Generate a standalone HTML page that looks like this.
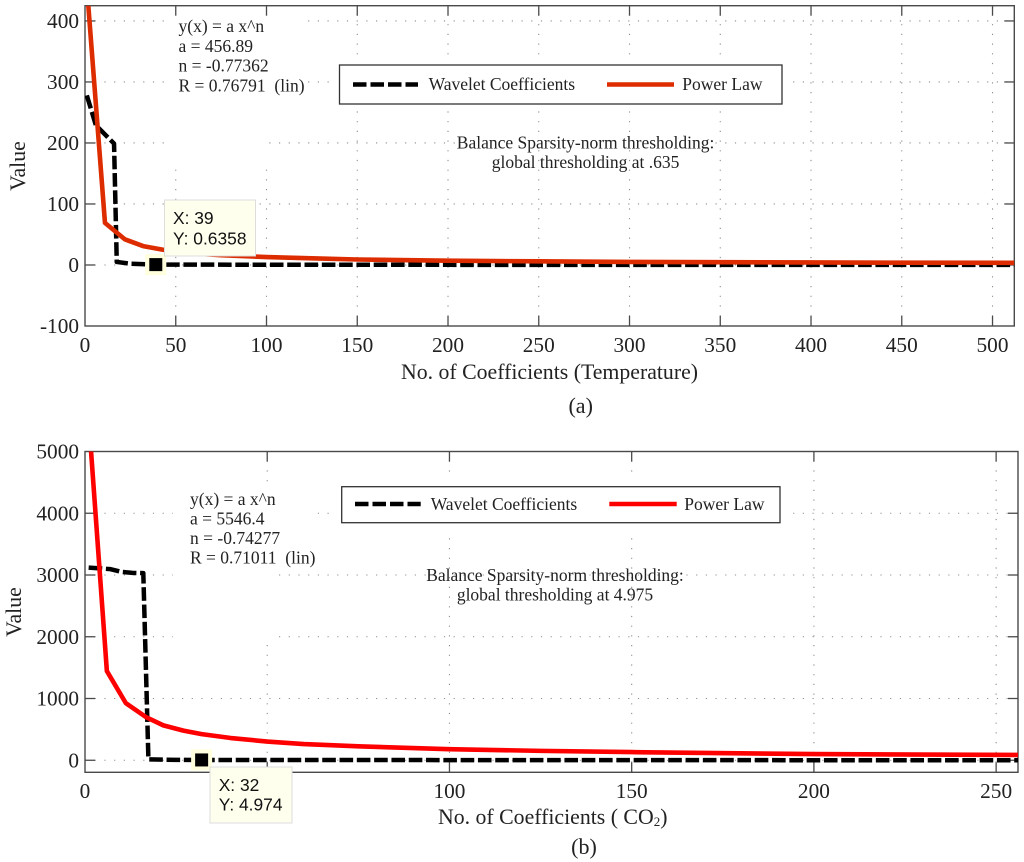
<!DOCTYPE html>
<html lang="en">
<head>
<meta charset="utf-8">
<title>Wavelet Coefficients and Power Law</title>
<style>
html,body{margin:0;padding:0;background:#fff;}
svg{display:block;}
text{font-family:"Liberation Serif",serif;fill:#222;}
.tick{font-size:21.3px;}
.axt{font-size:21.8px;}
.cap{font-size:22px;}
.ann{font-size:17.5px;}
.tip{font-family:"Liberation Sans",sans-serif;font-size:17.4px;fill:#111;}
</style>
</head>
<body>
<svg id="fig" xmlns="http://www.w3.org/2000/svg" width="1024" height="862" viewBox="0 0 1024 862">
  <defs>
    <clipPath id="clip-a"><rect x="85" y="5.7" width="929.3" height="320.3"/></clipPath>
    <clipPath id="clip-b"><rect x="85" y="451.5" width="933" height="320.8"/></clipPath>
  </defs>

  <g id="panel-a">
    <g id="grid-a"></g>
    <g fill="#fff">
      <rect x="165" y="15" width="141" height="76"/>
      <rect x="165" y="91" width="103" height="78"/>
      <rect x="332" y="60" width="456" height="50"/>
      <rect x="456" y="137" width="259" height="12"/>
    </g>
    <g id="axes-a"></g>
    <g id="series-a" clip-path="url(#clip-a)"></g>
    <g id="ticks-a"></g>

    <text class="axt" x="25" y="166" text-anchor="middle" transform="rotate(-90 25 166)">Value</text>
    <text class="axt" x="549.5" y="379" text-anchor="middle">No. of Coefficients (Temperature)</text>
    <text class="cap" x="580.7" y="413" text-anchor="middle">(a)</text>

    <g>
      <text class="ann" x="178.5" y="32">y(x) = a x^n</text>
      <text class="ann" x="178.5" y="52">a = 456.89</text>
      <text class="ann" x="178.5" y="71.5">n = -0.77362</text>
      <text class="ann" x="178.5" y="91.5" xml:space="preserve">R = 0.76791  (lin)</text>
    </g>

    <g>
      <rect x="339.5" y="65" width="442.5" height="39" fill="#fff" stroke="#333" stroke-width="1.3"/>
      <line x1="353" y1="84.5" x2="418" y2="84.5" stroke="#000" stroke-width="4.5" stroke-dasharray="13.5 4"/>
      <text class="ann" x="428.6" y="90">Wavelet Coefficients</text>
      <line x1="607" y1="84.5" x2="674" y2="84.5" stroke="#dd2c00" stroke-width="4.5"/>
      <text class="ann" x="682.3" y="90">Power Law</text>
    </g>

    <text class="ann" x="585.6" y="148.5" text-anchor="middle">Balance Sparsity-norm thresholding:</text>
    <text class="ann" x="585.6" y="168" text-anchor="middle">global thresholding at .635</text>

    <g id="marker-a"></g>
    <g>
      <rect x="164.5" y="200" width="91" height="56" fill="#ffffee" stroke="#ddd" stroke-width="1"/>
      <text class="tip" x="173" y="224">X: 39</text>
      <text class="tip" x="173" y="244.3">Y: 0.6358</text>
    </g>
  </g>

  <g id="panel-b">
    <g id="grid-b"></g>
    <g fill="#fff">
      <rect x="173" y="483" width="105" height="162"/>
      <rect x="278" y="483" width="39" height="62"/>
      <rect x="334" y="480" width="454" height="50"/>
    </g>
    <g id="axes-b"></g>
    <g id="series-b" clip-path="url(#clip-b)"></g>
    <g id="ticks-b"></g>

    <text class="axt" x="21" y="612" text-anchor="middle" transform="rotate(-90 21 612)">Value</text>
    <text class="axt" x="438" y="824">No. of Coefficients ( CO<tspan font-size="13" dy="2">2</tspan><tspan dy="-2">)</tspan></text>
    <text class="cap" x="584" y="854" text-anchor="middle">(b)</text>

    <g>
      <text class="ann" x="190" y="505">y(x) = a x^n</text>
      <text class="ann" x="190" y="524.3">a = 5546.4</text>
      <text class="ann" x="190" y="544">n = -0.74277</text>
      <text class="ann" x="190" y="563.3" xml:space="preserve">R = 0.71011  (lin)</text>
    </g>

    <g>
      <rect x="341.7" y="486.7" width="438.3" height="36" fill="#fff" stroke="#333" stroke-width="1.3"/>
      <line x1="355" y1="504" x2="420.7" y2="504" stroke="#000" stroke-width="4.5" stroke-dasharray="13.5 4"/>
      <text class="ann" x="430.7" y="510">Wavelet Coefficients</text>
      <line x1="609.3" y1="504" x2="676.7" y2="504" stroke="#ff0000" stroke-width="4.5"/>
      <text class="ann" x="684.3" y="510">Power Law</text>
    </g>

    <text class="ann" x="555" y="581" text-anchor="middle">Balance Sparsity-norm thresholding:</text>
    <text class="ann" x="555" y="600.7" text-anchor="middle">global thresholding at 4.975</text>

    <g id="marker-b"></g>
    <g>
      <rect x="210" y="767" width="82" height="56" fill="#ffffee" stroke="#ddd" stroke-width="1"/>
      <text class="tip" x="218.7" y="791">X: 32</text>
      <text class="tip" x="218.7" y="810.7">Y: 4.974</text>
    </g>
  </g>
</svg>

<script>
// Panel (a): Temperature
const xTicksA = [0, 50, 100, 150, 200, 250, 300, 350, 400, 450, 500];
const yTicksA = [-100, 0, 100, 200, 300, 400];
const waveletXA = [1, 6, 16, 17.5, 25, 39, 100, 200, 300, 400, 512];
const waveletYA = [278, 229, 199, 5, 2, 0.6358, 0.4, 0.3, 0.2, 0.1, 0.1];
const powerXA = [1, 11, 22, 32, 43, 54, 64, 75, 100, 125, 150, 200, 250, 300, 350, 400, 450, 512];
const powerYA = [457, 69, 42, 31, 25, 21, 18, 16, 13, 11, 9, 7, 6, 5, 4.6, 4.2, 3.8, 3.5];
const markerXA = 39;
const markerYA = 0.6358;

// Panel (b): CO2
const xTicksB = [0, 50, 100, 150, 200, 250];
const yTicksB = [0, 1000, 2000, 3000, 4000, 5000];
const waveletXB = [1, 7, 10, 13, 16, 17.4, 25, 32, 100, 150, 200, 256];
const waveletYB = [3120, 3095, 3050, 3035, 3030, 15, 6, 4.974, 3, 2, 1, 1];
const powerXB = [1, 6, 11.2, 16.7, 21.5, 27, 32, 40, 50, 60, 75, 100, 125, 150, 200, 256];
const powerYB = [5546, 1445, 925, 700, 565, 480, 423, 360, 303, 262, 225, 180, 152, 132, 100, 86];
const markerXB = 32;
const markerYB = 4.974;

const NS = 'http://www.w3.org/2000/svg';
function make(tag, attrs, parent) {
  const el = document.createElementNS(NS, tag);
  for (const k in attrs) el.setAttribute(k, attrs[k]);
  parent.appendChild(el);
  return el;
}
function linear(d0, d1, r0, r1) {
  return v => r0 + (v - d0) * (r1 - r0) / (d1 - d0);
}
function pts(xs, ys, sx, sy) {
  return xs.map((x, i) => sx(x).toFixed(2) + ',' + sy(ys[i]).toFixed(2)).join(' ');
}

function drawPanel(p) {
  const grid = document.getElementById('grid-' + p.id);
  const axes = document.getElementById('axes-' + p.id);
  const series = document.getElementById('series-' + p.id);
  const labels = document.getElementById('ticks-' + p.id);
  const marker = document.getElementById('marker-' + p.id);

  p.yTicks.forEach(v => {
    if (v === p.yMin || v === p.yMax) return;
    const y = p.sy(v);
    const g = make('line', {x1: p.L, y1: y, x2: p.R, y2: y, stroke: '#8f8f8f', 'stroke-width': 1.1, 'stroke-dasharray': '1.2 8.5'}, grid);
    
    
  });
  p.xTicks.forEach(v => {
    if (v === 0) return;
    const x = p.sx(v);
    const g = make('line', {x1: x, y1: p.B, x2: x, y2: p.T, stroke: '#8f8f8f', 'stroke-width': 1.1, 'stroke-dasharray': '1.2 8.5'}, grid);
    
    
  });

  const box = make('rect', {x: p.L, y: p.T, width: p.R - p.L, height: p.B - p.T, fill: 'none', stroke: '#4a4a4a', 'stroke-width': 1.4}, axes);
  
  

  p.xTicks.forEach(v => {
    const x = p.sx(v);
    if (v !== 0) {
      const t1 = make('line', {x1: x, y1: p.B, x2: x, y2: p.B - 10, stroke: '#4a4a4a', 'stroke-width': 1.3}, axes);
      
      
      const t2 = make('line', {x1: x, y1: p.T, x2: x, y2: p.T + 10, stroke: '#4a4a4a', 'stroke-width': 1.3}, axes);
      
      
    }
    const lbl = make('text', {class: 'tick', x: x, y: p.xLabelY, 'text-anchor': 'middle'}, labels);
    
    
    lbl.textContent = v;
  });
  p.yTicks.forEach(v => {
    const y = p.sy(v);
    if (v !== p.yMin && v !== p.yMax) {
      const t1 = make('line', {x1: p.L, y1: y, x2: p.L + 10, y2: y, stroke: '#4a4a4a', 'stroke-width': 1.3}, axes);
      
      
      const t2 = make('line', {x1: p.R, y1: y, x2: p.R - 10, y2: y, stroke: '#4a4a4a', 'stroke-width': 1.3}, axes);
      
      
    }
    const lbl = make('text', {class: 'tick', x: 79, y: y + 7, 'text-anchor': 'end'}, labels);
    
    
    lbl.textContent = v;
  });

  const black = make('polyline', {points: pts(p.wx, p.wy, p.sx, p.sy), fill: 'none', stroke: '#000', 'stroke-width': 4.5, 'stroke-dasharray': '13.6 3.7', 'stroke-linejoin': 'round'}, series);
  
  
  const red = make('polyline', {points: pts(p.px, p.py, p.sx, p.sy), fill: 'none', stroke: p.color, 'stroke-width': 4.6, 'stroke-linejoin': 'round'}, series);
  
  

  const mx = p.sx(p.mx), my = p.sy(p.my);
  const halo = make('rect', {x: mx - 10.5, y: my - 10.5, width: 21, height: 21, fill: '#ffffdd'}, marker);
  
  
  const sq = make('rect', {x: mx - 6.5, y: my - 6.5, width: 13, height: 13, fill: '#000'}, marker);
  
  
}

drawPanel({
  id: 'a', L: 85, R: 1014.3, T: 5.7, B: 326, xLabelY: 352,
  yMin: -100, yMax: 425,
  sx: linear(0, 512, 85, 1014.3), sy: linear(-100, 425, 326, 5.7),
  xTicks: xTicksA, yTicks: yTicksA,
  wx: waveletXA, wy: waveletYA, px: powerXA, py: powerYA,
  mx: markerXA, my: markerYA, color: '#dd2c00'
});
drawPanel({
  id: 'b', L: 85, R: 1018, T: 451.5, B: 772.3, xLabelY: 798,
  yMin: -195, yMax: 5000,
  sx: linear(0, 256, 85, 1018), sy: linear(-195, 5000, 772.3, 451.5),
  xTicks: xTicksB, yTicks: yTicksB,
  wx: waveletXB, wy: waveletYB, px: powerXB, py: powerYB,
  mx: markerXB, my: markerYB, color: '#ff0000'
});
</script>
</body>
</html>
